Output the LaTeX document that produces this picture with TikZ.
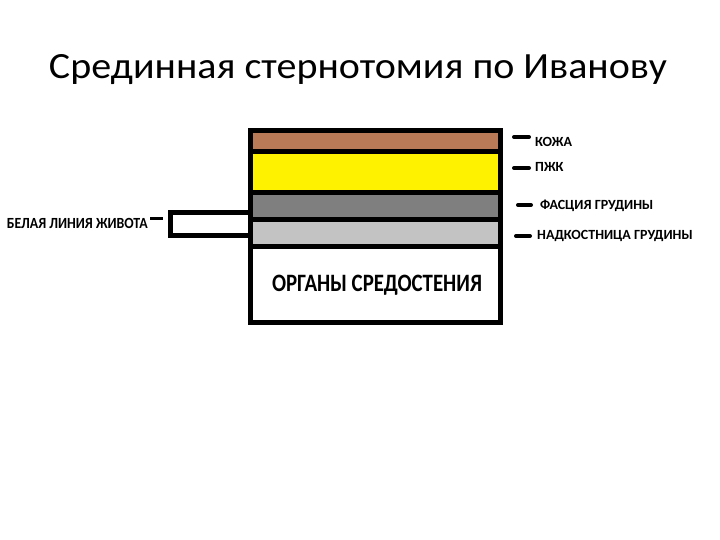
\documentclass[tikz,border=0pt]{standalone}
\usepackage{fontspec}
\setmainfont{Carlito}
\definecolor{skin}{HTML}{B97A57}
\definecolor{fat}{HTML}{FFF200}
\definecolor{fascia}{HTML}{7F7F7F}
\definecolor{periost}{HTML}{C3C3C3}
\tikzset{
  border/.style={line width=5pt, draw=black},
  marker/.style={line width=4pt, line cap=round},
  lbl/.style={font=\bfseries\fontsize{14}{14}\selectfont, anchor=base west, inner sep=0pt},
}
\begin{document}
\begin{tikzpicture}[x=1pt,y=-1pt]
\useasboundingbox (0,0) rectangle (720,540);
% title
\node[font=\fontsize{37}{37}\selectfont, anchor=base, inner sep=0pt] (title) at (358,78.5) {\resizebox{618pt}{\height}{Срединная стернотомия по Иванову}};
% layers
\fill[skin] (250.5,130.5) rectangle (500.5,151.5);
\fill[fat] (250.5,151.5) rectangle (500.5,192.5);
\fill[fascia] (250.5,192.5) rectangle (500.5,220);
\fill[periost] (250.5,220) rectangle (500.5,246.5);
\fill[white] (250.5,246.5) rectangle (500.5,322.5);
\draw[border] (250.5,130.5) rectangle (500.5,322.5);
\draw[border] (250.5,151.5) -- (500.5,151.5);
\draw[border] (250.5,192.5) -- (500.5,192.5);
\draw[border] (250.5,220) -- (500.5,220);
\draw[border] (250.5,246.5) -- (500.5,246.5);
% white line of abdomen
\draw[border, fill=white] (170,212.5) rectangle (250.5,235);
\node[font=\bfseries\fontsize{25}{25}\selectfont, anchor=base, inner sep=0pt] (organs) at (377,291.5) {\resizebox{210pt}{\height}{ОРГАНЫ СРЕДОСТЕНИЯ}};
% right markers
\draw[marker] (514,137) -- (529,137);
\node[lbl] (l1) at (535,146.5) {КОЖА};
\draw[marker] (514,168) -- (529,168);
\node[lbl] (l2) at (535,171.5) {ПЖК};
\draw[marker] (518,205) -- (531,205);
\node[lbl] (l3) at (540,209.5) {ФАСЦИЯ ГРУДИНЫ};
\draw[marker] (516,236) -- (530,236);
\node[lbl] (l4) at (537,240) {НАДКОСТНИЦА ГРУДИНЫ};
% left label
\node[lbl, anchor=base east, font=\bfseries\fontsize{15.5}{15.5}\selectfont] (l5) at (148,229) {\resizebox{141pt}{\height}{БЕЛАЯ ЛИНИЯ ЖИВОТА}};
\draw[line width=3pt] (150,219) -- (163,219);
\end{tikzpicture}
\end{document}
